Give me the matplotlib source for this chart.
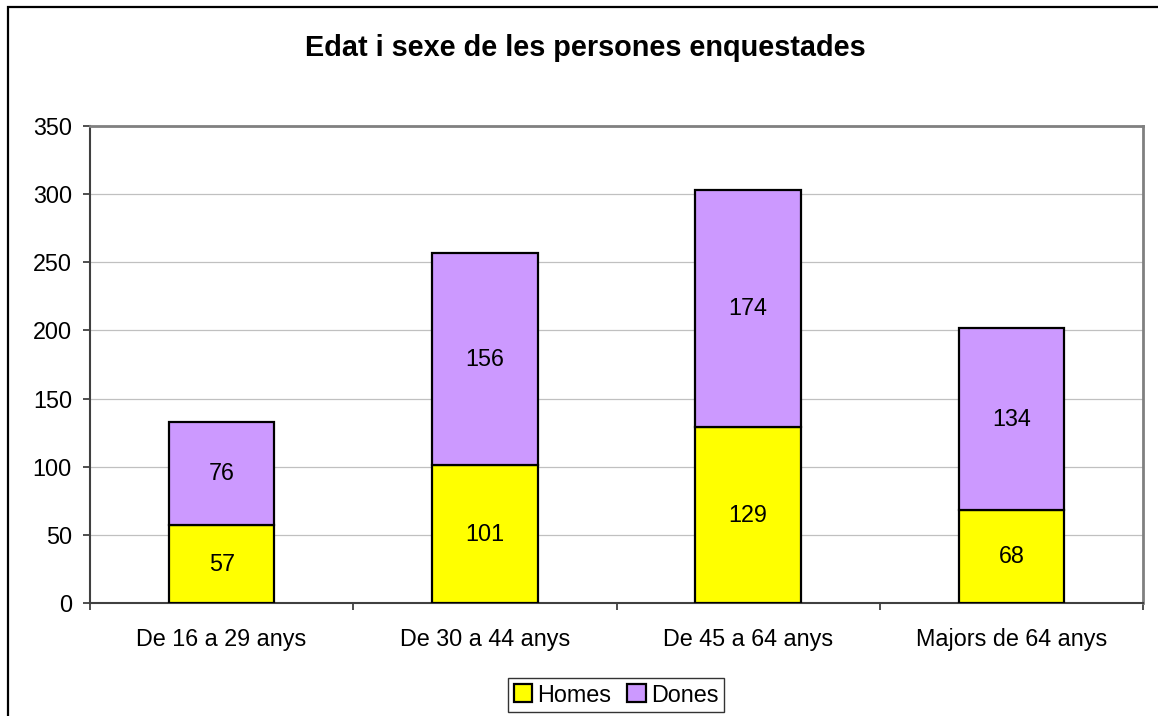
import matplotlib
matplotlib.use("Agg")
import matplotlib.pyplot as plt
import matplotlib.patches as mpatches
import numpy as np

categories = ["De 16 a 29 anys", "De 30 a 44 anys", "De 45 a 64 anys", "Majors de 64 anys"]
homes = [57, 101, 129, 68]
dones = [76, 156, 174, 134]
series_names = ["Homes", "Dones"]
colors = ["#FFFF00", "#CC99FF"]
title = "Edat i sexe de les persones enquestades"

plt.rcParams['font.family'] = ['Liberation Sans', 'DejaVu Sans']
FS = 16.8

fig = plt.figure(figsize=(11.58, 7.16), dpi=100)
ax = fig.add_axes([90/1158, 1-603/716, (1143-90)/1158, (603-126)/716])

x = np.arange(len(categories))
w = 0.4
ax.bar(x, homes, w, color=colors[0], edgecolor='black', linewidth=1.6, label=series_names[0], zorder=3)
ax.bar(x, dones, w, bottom=homes, color=colors[1], edgecolor='black', linewidth=1.6, label=series_names[1], zorder=3)

for i in range(len(categories)):
    ax.text(x[i], homes[i]/2, str(homes[i]), ha='center', va='center', fontsize=FS, zorder=4)
    ax.text(x[i], homes[i] + dones[i]/2, str(dones[i]), ha='center', va='center', fontsize=FS, zorder=4)

ax.set_xlim(-0.5, len(categories)-0.5)
ax.set_ylim(0, 350)
ax.set_yticks(np.arange(0, 351, 50))
ax.yaxis.grid(True, color='#C0C0C0', linewidth=0.9, zorder=0)
ax.set_axisbelow(True)

ax.set_xticks(x)
ax.set_xticklabels(categories, fontsize=FS)
ax.tick_params(axis='x', which='major', length=0, pad=18)
ax.set_xticks(np.arange(-0.5, len(categories), 1), minor=True)
ax.tick_params(axis='x', which='minor', length=5, width=1.3, color='#404040', direction='out')
ax.tick_params(axis='y', length=5, width=1.3, color='#404040', direction='out', pad=8, labelsize=FS)

for s in ['left', 'bottom']:
    ax.spines[s].set_color('#404040')
    ax.spines[s].set_linewidth(1.5)
for s in ['top', 'right']:
    ax.spines[s].set_color('#808080')
    ax.spines[s].set_linewidth(2)

fig.text(585/1158, 1-48.5/716, title, ha='center', va='center', fontsize=20.8, fontweight='bold')

leg = ax.legend(loc='center', bbox_to_anchor=(616/1158, 1-695/716), bbox_transform=fig.transFigure,
                ncol=2, fontsize=FS, frameon=True, fancybox=False, edgecolor='black',
                handlelength=0.8, handleheight=0.8, handletextpad=0.2, columnspacing=0.7,
                borderpad=0.25, borderaxespad=0)
leg.get_frame().set_linewidth(1.0)

border = mpatches.Rectangle((8/1158, -0.1), 1.2, 1.1 - 7/716, transform=fig.transFigure,
                            fill=False, edgecolor='black', linewidth=1.6, clip_on=False)
fig.patches.append(border)

fig.savefig("out.png", dpi=100)
